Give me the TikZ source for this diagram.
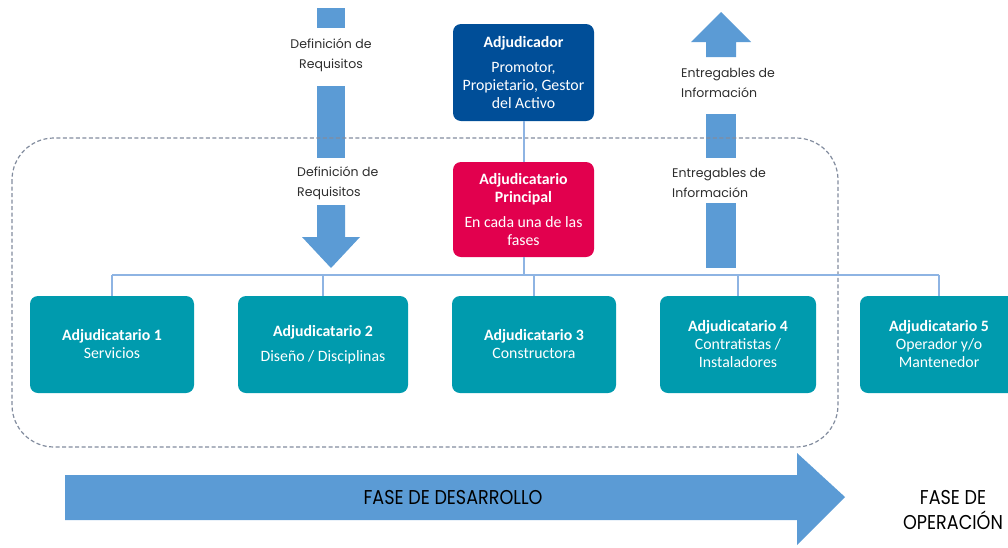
\documentclass[tikz,border=0pt]{standalone}
\usepackage{fontspec}
\setmainfont{Carlito}
\newfontfamily\lblfont{Poppins}
\definecolor{adjblue}{RGB}{0,78,152}
\definecolor{adjred}{RGB}{226,0,78}
\definecolor{adjteal}{RGB}{0,155,174}
\definecolor{arrowblue}{RGB}{91,155,213}
\definecolor{busblue}{RGB}{142,180,227}
\definecolor{dashgray}{RGB}{130,140,158}
\definecolor{txtgray}{RGB}{45,45,45}
\begin{document}
\begin{tikzpicture}[x=1pt,y=-1pt,
  abox/.style={rounded corners=8pt, inner sep=0pt, align=center, text=white,
     font=\fontsize{15.8}{18}\selectfont},
  tealbox/.style={abox, fill=adjteal, minimum height=97pt},
  lbl/.style={font=\lblfont\fontsize{12.5}{20}\selectfont, text=txtgray, inner sep=0pt},
  phase/.style={font=\lblfont\fontsize{20}{25}\selectfont, text=black, inner sep=0pt},
  bus/.style={draw=busblue, line width=2pt},
  shaft/.style={fill=arrowblue},
  dashbox/.style={draw=dashgray, line width=1.2pt, dash pattern=on 4pt off 2.5pt, rounded corners=42pt}]
\useasboundingbox (0,0) rectangle (1008,547);
\clip (0,0) rectangle (1008,547);

% --- vertical arrows (drawn as shaft pieces) ---
\fill[shaft] (317,8) rectangle (345,28);
\fill[shaft] (317,86) rectangle (345,158);
\fill[shaft] (317,205) -- (345,205) -- (345,237) -- (360,237) -- (331,268) -- (302,237) -- (317,237) -- cycle;
\node[lbl, align=center] (defA) at (331,55) {Definición de\\Requisitos};
\node[lbl, align=left, anchor=west] (defB) at (297,183) {Definición de\\Requisitos};

\fill[shaft] (706,268) -- (706,203) -- (736,203) -- (736,268) -- cycle;
\fill[shaft] (706,114) rectangle (736,158);
\fill[shaft] (706,57) -- (706,42) -- (691,42) -- (721,12) -- (751,42) -- (736,42) -- (736,57) -- cycle;
\node[lbl, align=left, anchor=west] (entA) at (681,83) {Entregables de\\Información};
\node[lbl, align=left, anchor=west] (entB) at (672,182.5) {Entregables de\\Información};

% --- dashed development frame ---
\draw[dashbox] (12,138) rectangle (838,447);

% --- boxes ---
\node[abox, fill=adjblue, minimum width=141pt, minimum height=97pt] (adj) at (523.5,72.5)
  {\textbf{Adjudicador}\\[7pt]Promotor,\\Propietario, Gestor\\del Activo};
\node[abox, fill=adjred, minimum width=141pt, minimum height=95pt] (pri) at (523.5,209.5)
  {\textbf{Adjudicatario}\\\textbf{Principal}\\[7pt]En cada una de las\\fases};

\node[tealbox, minimum width=164pt] (a1) at (112,344.5) {\textbf{Adjudicatario 1}\\Servicios};
\node[tealbox, minimum width=170pt] (a2) at (323,344.5) {\textbf{Adjudicatario 2}\\[7pt]Diseño / Disciplinas};
\node[tealbox, minimum width=164pt] (a3) at (534,344.5) {\textbf{Adjudicatario 3}\\Constructora};
\node[tealbox, minimum width=156pt] (a4) at (738,344.5) {\textbf{Adjudicatario 4}\\Contratistas /\\Instaladores};
\node[tealbox, minimum width=158pt] (a5) at (939,344.5) {\textbf{Adjudicatario 5}\\Operador y/o\\Mantenedor};

% --- connectors ---
\coordinate (busL) at (112,275);
\coordinate (busR) at (939,275);
\draw[bus] (adj.south) -- (pri.north);
\draw[bus] (pri.south) -- (pri.south |- busL);
\draw[bus] (busL) -- (busR);
\foreach \n in {a1,a2,a3,a4,a5} \draw[bus] (\n.north) -- (\n.north |- busL);

% --- phase arrow ---
\fill[shaft] (65,475) -- (797,475) -- (797,453) -- (845,497) -- (797,545) -- (797,520) -- (65,520) -- cycle;
\node[phase] (desa) at (453,497) {\scalebox{0.88}[1]{FASE DE DESARROLLO}};
\node[phase, align=center] (oper) at (953,510) {\scalebox{0.88}[1]{FASE DE}\\\scalebox{0.88}[1]{OPERACIÓN}};
\end{tikzpicture}
\end{document}
